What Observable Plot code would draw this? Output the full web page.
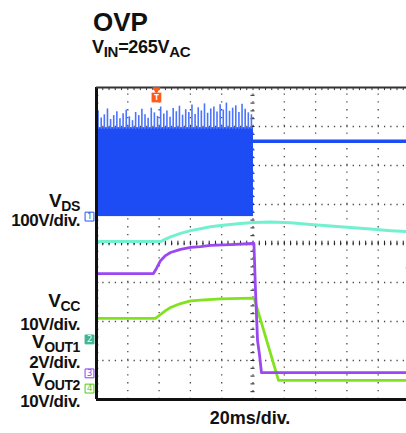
<!DOCTYPE html>
<html>
<head>
<meta charset="utf-8">
<script src="https://cdn.jsdelivr.net/npm/d3@7"></script>
<script src="https://cdn.jsdelivr.net/npm/@observablehq/plot@0.6"></script>
<style>
  html, body { margin: 0; padding: 0; background: #fff; }
  #wrap { position: relative; width: 406px; height: 433px; overflow: hidden;
          font-family: "Liberation Sans", Arial, Helvetica, sans-serif; font-weight: bold; color: #111; }
  #wrap svg { position: absolute; left: 0; top: 0; }
  .lbl { position: absolute; line-height: 0.85; white-space: nowrap; }
  .lbl .s { vertical-align: -4px; }
</style>
</head>
<body>
<div id="wrap"></div>
<script>
// ---- data (time in ms, 20 ms/div; amplitude in screen divisions from bottom, 8 div tall) ----
const timeDomain = [0, 200];
const divDomain = [0, 8];
const gridTimes = [20, 40, 60, 80, 120, 140, 160, 180];
const gridDivs = [1, 2, 3, 5, 6, 7];
const centerTime = 100;
const centerDiv = 4;

// V_DS switching band (channel 1, blue)
const vdsBand = [{start: 0, end: 100.3, low: 4.69, high: 6.97}];
const vdsSpikeTimes = [1,3,5,7,9,11,13,15,17,19,21,23,25,27,29,31,33,35,37,39,41,43,45,47,49,51,53,55,57,59,61,63,65,67,69,71,73,75,77,79,81,83,85,87,89,91,93,95,97,99];
const vdsSpikeTops = [7.40,7.22,7.30,7.45,7.18,7.28,7.38,7.20,7.33,7.42,7.25,7.15,7.36,7.28,7.44,7.30,7.21,7.47,7.35,7.26,7.50,7.32,7.40,7.24,7.46,7.38,7.52,7.29,7.43,7.36,7.55,7.31,7.48,7.40,7.58,7.34,7.45,7.50,7.37,7.56,7.42,7.60,7.39,7.47,7.53,7.36,7.57,7.44,7.35,7.30];
const vdsAfterT = [100.3, 200];
const vdsAfterV = [6.62, 6.62];

// V_CC (channel 2, aquamarine)
const ch2T = [0, 40.9, 44.1, 47.3, 53.7, 60.1, 66.5, 72.8, 79.2, 85.6, 92.0, 100.3, 111.2, 124.0, 136.7, 149.5, 162.3, 175.1, 187.9, 200];
const ch2V = [4.05, 4.05, 4.11, 4.17, 4.26, 4.33, 4.38, 4.43, 4.46, 4.49, 4.51, 4.54, 4.55, 4.53, 4.49, 4.45, 4.41, 4.37, 4.33, 4.30];

// V_OUT1 (channel 3, purple)
const ch3T = [0, 36.4, 38.3, 40.9, 44.1, 47.3, 53.7, 60.1, 66.5, 72.8, 85.6, 99.7, 100.6, 101.6, 102.9, 104.2, 105.4, 200];
const ch3V = [3.23, 3.23, 3.36, 3.56, 3.69, 3.77, 3.85, 3.90, 3.92, 3.95, 3.97, 4.00, 4.00, 2.79, 1.51, 1.13, 0.69, 0.69];

// V_OUT2 (channel 4, green)
const ch4T = [0, 37.7, 40.9, 44.1, 47.3, 53.7, 60.1, 66.5, 79.2, 99.7, 101.0, 116.3, 200];
const ch4V = [2.08, 2.08, 2.18, 2.28, 2.36, 2.46, 2.53, 2.55, 2.58, 2.60, 2.56, 0.49, 0.49];

const channelMarkers = [
  {ch: "1", v: 4.69, color: "#2a52e8", filled: false},
  {ch: "2", v: 1.54, color: "#3fb592", filled: true},
  {ch: "3", v: 0.67, color: "#8a3ff0", filled: false},
  {ch: "4", v: 0.28, color: "#54c81a", filled: false}
];
const triggerTime = 38.3;
const ch3LevelMark = [{t: 199, v: 3.38}];

// ---- labels ----
const titleText = "OVP";
const leftLabels = [
  {main: "V", sub: "DS", base: 208},
  {main: "100V/div.", sub: "", base: 227},
  {main: "V", sub: "CC", base: 308},
  {main: "10V/div.", sub: "", base: 331},
  {main: "V", sub: "OUT1", base: 349},
  {main: "2V/div.", sub: "", base: 369},
  {main: "V", sub: "OUT2", base: 387},
  {main: "10V/div.", sub: "", base: 408}
];
const timebaseText = "20ms/div.";

// ---- build ----
const colors = {vds: "#1d4cf5", vdsSpike: "#4a74ff", ch2: "#72f0d0", ch3: "#9a48f2", ch4: "#80e31e", trig: "#ff5a1e", grid: "#4a4a4a", frame: "#111"};
const toRows = (T, V) => T.map((t, i) => ({t, v: V[i]}));
const spikes = vdsSpikeTimes.map((t, i) => ({t, top: vdsSpikeTops[i]}));
const xMinor = d3.range(timeDomain[0], timeDomain[1] + 0.01, 4);
const yMinor = d3.range(divDomain[0], divDomain[1] + 0.001, 0.2);

const plot = Plot.plot({
  width: 406,
  height: 433,
  x: {domain: timeDomain, range: [96, 409], axis: null},
  y: {domain: divDomain, range: [399, 87], axis: null},
  style: {overflow: "visible", background: "transparent"},
  marks: [
    // dotted graticule
    Plot.ruleX(gridTimes, {y1: divDomain[0], y2: divDomain[1], stroke: colors.grid, strokeWidth: 1.3, strokeDasharray: "1.3,6.5"}),
    Plot.ruleY(gridDivs, {x1: timeDomain[0], x2: timeDomain[1], stroke: colors.grid, strokeWidth: 1.3, strokeDasharray: "1.3,4.96"}),
    Plot.ruleX([centerTime], {y1: divDomain[0], y2: divDomain[1], stroke: colors.grid, strokeWidth: 1.3, strokeDasharray: "1.3,6.5"}),
    Plot.ruleY([centerDiv], {x1: timeDomain[0], x2: timeDomain[1], stroke: colors.grid, strokeWidth: 1.3, strokeDasharray: "1.3,4.96"}),
    // center cross minor ticks
    Plot.ruleX(xMinor, {y1: centerDiv - 0.06, y2: centerDiv + 0.06, stroke: "#222", strokeWidth: 1}),
    Plot.ruleY(yMinor, {x1: centerTime - 1.3, x2: centerTime + 1.3, stroke: "#222", strokeWidth: 1}),
    // edge minor ticks
    Plot.ruleX(xMinor, {y1: divDomain[1] - 0.08, y2: divDomain[1], stroke: "#333", strokeWidth: 1}),
    Plot.ruleY(yMinor, {x1: timeDomain[0], x2: timeDomain[0] + 1.5, stroke: "#333", strokeWidth: 1}),
    // traces
    Plot.line(toRows(ch4T, ch4V), {x: "t", y: "v", stroke: colors.ch4, strokeWidth: 2.8}),
    Plot.line(toRows(ch3T, ch3V), {x: "t", y: "v", stroke: colors.ch3, strokeWidth: 2.8}),
    Plot.line(toRows(ch2T, ch2V), {x: "t", y: "v", stroke: colors.ch2, strokeWidth: 3}),
    Plot.rect(vdsBand, {x1: "start", x2: "end", y1: "low", y2: "high", fill: colors.vds}),
    Plot.ruleX(spikes, {x: "t", y1: vdsBand[0].high - 0.05, y2: "top", stroke: colors.vdsSpike, strokeWidth: 1.6}),
    Plot.line(toRows(vdsAfterT, vdsAfterV), {x: "t", y: "v", stroke: colors.vds, strokeWidth: 3.5}),
    Plot.dot(ch3LevelMark, {x: "t", y: "v", r: 2.2, fill: colors.ch3}),
    // frame
    Plot.ruleX([timeDomain[0]], {y1: divDomain[0], y2: divDomain[1], stroke: colors.frame, strokeWidth: 3}),
    Plot.ruleY([divDomain[1]], {x1: timeDomain[0], x2: timeDomain[1], stroke: "#333", strokeWidth: 2}),
    Plot.ruleY([divDomain[0]], {x1: timeDomain[0], x2: timeDomain[1], stroke: colors.frame, strokeWidth: 3}),
    // channel ground markers
    Plot.dot(channelMarkers, {x: timeDomain[0], y: "v", dx: -7, symbol: "square", r: 5, stroke: "color", fill: d => d.filled ? d.color : "#fff", strokeWidth: 1}),
    Plot.text(channelMarkers, {x: timeDomain[0], y: "v", dx: -7, text: "ch", fill: d => d.filled ? "#fff" : d.color, fontSize: 9, fontWeight: "normal"}),
    // trigger marker
    Plot.dot([triggerTime], {x: d => d, y: divDomain[1], dy: 2, symbol: "triangle", rotate: 180, r: 3, fill: colors.trig}),
    Plot.dot([triggerTime], {x: d => d, y: divDomain[1], dy: 10, symbol: "square", r: 5.5, fill: colors.trig}),
    Plot.text([triggerTime], {x: d => d, y: divDomain[1], dy: 10, text: () => "T", fill: "#fff", fontSize: 8})
  ]
});

const wrap = document.getElementById("wrap");
wrap.appendChild(plot);

function addLabel(html, fs, base, opts) {
  const d = document.createElement("div");
  d.className = "lbl";
  d.style.fontSize = fs + "px";
  d.style.top = (base - 0.7715 * fs) + "px";
  Object.assign(d.style, opts || {});
  d.innerHTML = html;
  wrap.appendChild(d);
}
addLabel(titleText, 26, 31.5, {left: "93px"});
addLabel('V<span class="s" style="font-size:15px">IN</span>=265V<span class="s" style="font-size:15px">AC</span>', 18, 54, {left: "92px", letterSpacing: "-0.3px"});
leftLabels.forEach(l => {
  const html = l.sub ? `${l.main}<span class="s" style="font-size:14px">${l.sub}</span>` : l.main;
  addLabel(html, l.sub ? 19 : 17, l.base, {right: "326px", textAlign: "right", letterSpacing: "-0.4px"});
});
addLabel(timebaseText, 18, 424.5, {left: "250px", transform: "translateX(-50%)"});
</script>
</body>
</html>
